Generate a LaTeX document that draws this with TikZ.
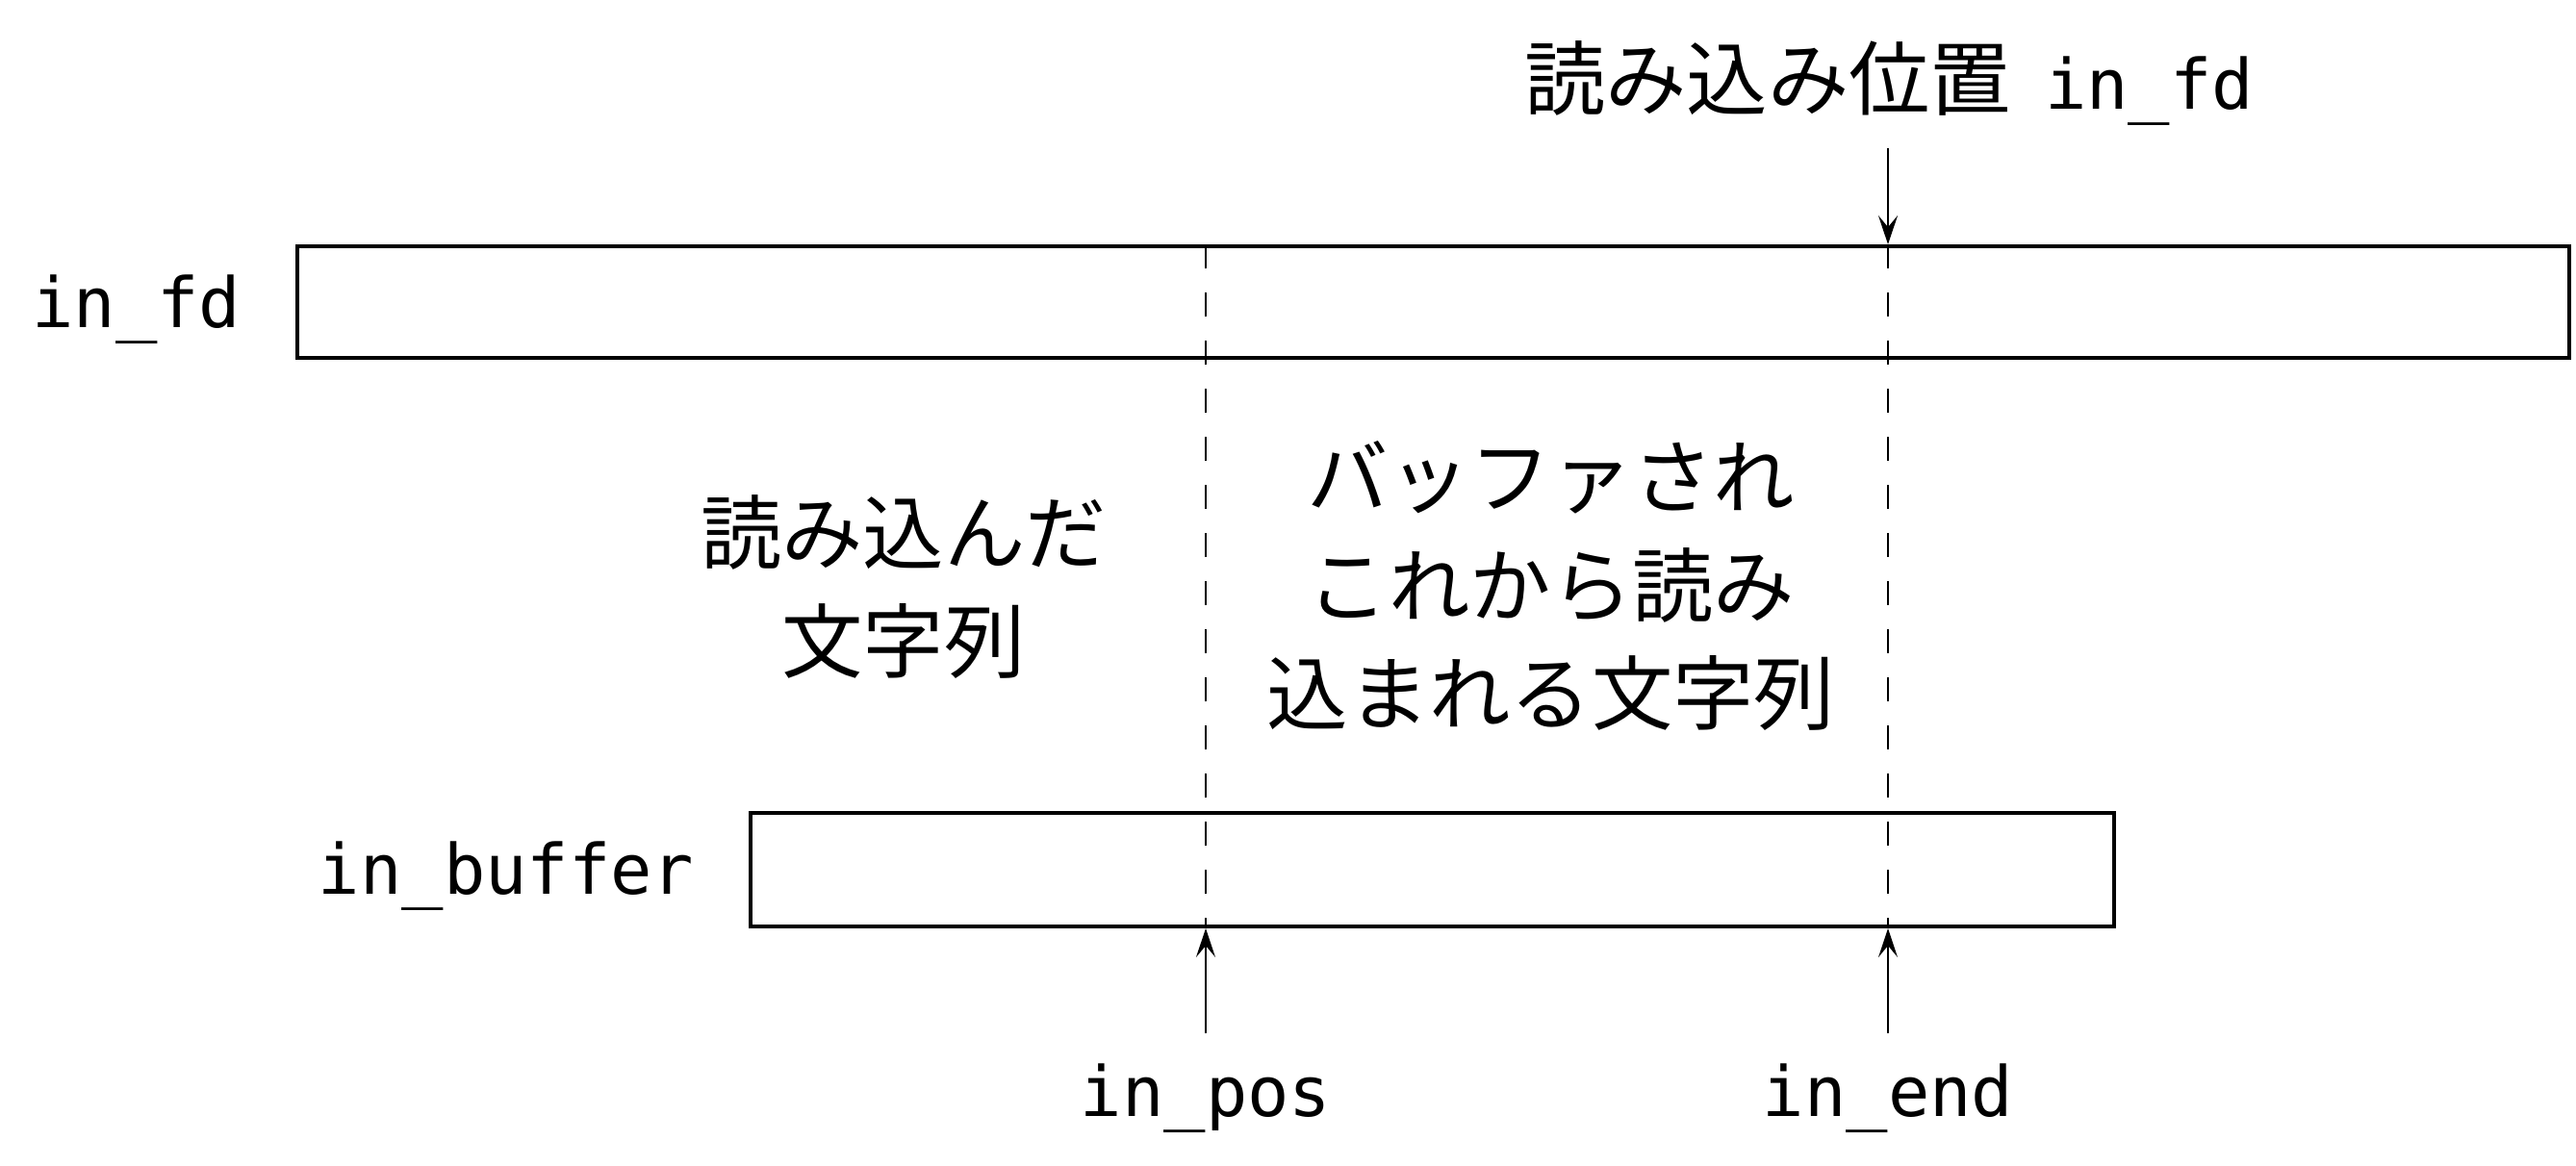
\documentclass[tikz,border=0pt]{standalone}
\usepackage{fontspec}
\setmonofont{DejaVu Sans Mono}
\newfontfamily\jafont{Noto Sans CJK JP}
\usetikzlibrary{arrows.meta,positioning}

\begin{document}
\begin{tikzpicture}[>={Stealth[length=3mm,width=2mm,inset=1.2mm]},
 buf/.style={draw,line width=1.1pt,inner sep=0pt},
 var/.style={font=\fontsize{20.5}{24}\selectfont\ttfamily,inner sep=0pt},
 jtxt/.style={font=\fontsize{24}{32}\selectfont\jafont,align=center,inner sep=0pt},
 guide/.style={line width=0.7pt,dash pattern=on 2.5mm off 2.5mm},
 ptr/.style={->,line width=0.7pt}]
\useasboundingbox (0,0) rectangle (26.77,-12.11);
\node[buf,minimum width=23.61cm,minimum height=1.16cm] (fd) at (14.895,-3.14) {};
\node[buf,minimum width=14.17cm,minimum height=1.18cm] (ib) at (14.885,-9.04) {};
\node[var,left=0.56cm of fd.west,anchor=east,yshift=-0.08cm] (fdname) {in\_fd};
\node[var,left=0.56cm of ib.west,anchor=east,yshift=-0.07cm] (ibname) {in\_buffer};
\coordinate (p) at (12.53,-10.74);
\coordinate (e) at (19.62,-10.74);
\coordinate (top) at (19.62,-1.54);
\draw[guide] (fd.north -| p) -- (ib.south -| p);
\draw[guide] (fd.north -| e) -- (ib.south -| e);
\draw[ptr] (top) -- (fd.north -| top);
\draw[ptr] (p) -- (ib.south -| p);
\draw[ptr] (e) -- (ib.south -| e);
\node[var,anchor=base] (pos) at (12.53,-11.60) {in\_pos};
\node[var,anchor=base] (end) at (19.62,-11.60) {in\_end};
\node[anchor=base,inner sep=0pt] (rdpos) at (19.63,-1.13)
 {{\fontsize{24}{32}\selectfont\jafont 読み込み位置}\hspace{0.35cm}{\fontsize{20.5}{24}\selectfont\ttfamily in\_fd}};
\node[jtxt] (done) at (9.39,-6.10) {読み込んだ\\文字列};
\node[jtxt] (rest) at (16.12,-6.09) {バッファされ\\これから読み\\込まれる文字列};
\end{tikzpicture}
\end{document}
